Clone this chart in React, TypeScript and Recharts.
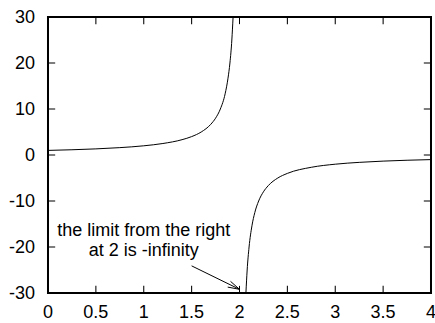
import { Line, LineChart, ReferenceArea, ReferenceDot, ReferenceLine, XAxis, YAxis } from "recharts";

// values, left branch (x < 2) and right branch (x > 2)
const leftX = [0, 0.25, 0.5, 0.75, 1, 1.2, 1.4, 1.5, 1.6, 1.7, 1.75, 1.8, 1.85, 1.88, 1.9, 1.92, 1.933];
const leftY = [1, 1.14, 1.33, 1.6, 2, 2.5, 3.33, 4, 5, 6.67, 8, 10, 13.3, 16.7, 20, 25, 30];
const rightX = [2.067, 2.08, 2.1, 2.13, 2.16, 2.2, 2.25, 2.3, 2.4, 2.5, 2.75, 3, 3.25, 3.5, 3.75, 4];
const rightY = [-30, -25, -20, -15.4, -12.5, -10, -8, -6.67, -5, -4, -2.67, -2, -1.6, -1.33, -1.14, -1];

const xTicks = [0, 0.5, 1, 1.5, 2, 2.5, 3, 3.5, 4];
const yTicks = [-30, -20, -10, 0, 10, 20, 30];

const noteLines = ["the limit from the right", "at 2 is -infinity"];
const noteAt = { x: 1, y: -17.6 };
const arrowFrom = { x: 1.5, y: -24.1 };
const arrowTo = { x: 2, y: -29.2 };

const leftData = leftX.map((x, i) => ({ x, y: leftY[i] }));
const rightData = rightX.map((x, i) => ({ x, y: rightY[i] }));

const FONT = "'Liberation Sans', Arial, sans-serif";
const X0 = xTicks[0];
const X1 = xTicks[xTicks.length - 1];
const Y0 = yTicks[0];
const Y1 = yTicks[yTicks.length - 1];
// inward tick length and half stroke widths, in axis units (1px ~ 0.0104 x, 0.217 y)
const xTickLen = 0.075;
const yTickLen = 1.55;
const hx = 0.0105;
const hy = 0.22;
const tx = 0.0055;
const ty = 0.11;

// border edges and tick marks as thin filled boxes [x1, x2, y1, y2]
const boxes: number[][] = [
  [X0 - hx, X1 + hx, Y0 - hy, Y0 + hy],
  [X0 - hx, X1 + hx, Y1 - hy, Y1 + hy],
  [X0 - hx, X0 + hx, Y0 - hy, Y1 + hy],
  [X1 - hx, X1 + hx, Y0 - hy, Y1 + hy],
  ...xTicks.map((t) => [t - tx, t + tx, Y0, Y0 + yTickLen]),
  ...xTicks.map((t) => [t - tx, t + tx, Y1 - yTickLen, Y1]),
  ...yTicks.map((t) => [X0, X0 + xTickLen, t - ty, t + ty]),
  ...yTicks.map((t) => [X1 - xTickLen, X1, t - ty, t + ty]),
];

function Arrow(props: any) {
  const { x1, y1, x2, y2 } = props;
  const ang = Math.atan2(y2 - y1, x2 - x1);
  const len = 12;
  const spread = 0.27;
  const ax = x2 - len * Math.cos(ang - spread);
  const ay = y2 - len * Math.sin(ang - spread);
  const bx = x2 - len * Math.cos(ang + spread);
  const by = y2 - len * Math.sin(ang + spread);
  return (
    <path
      d={`M${x1},${y1}L${x2},${y2}M${ax},${ay}L${x2},${y2}L${bx},${by}`}
      stroke="#000"
      strokeWidth={1}
      fill="none"
    />
  );
}

function Note(props: any) {
  const { cx, cy } = props;
  return (
    <text x={cx} y={cy} textAnchor="middle" fontSize={18} fontFamily={FONT} fill="#000">
      <tspan x={cx}>{noteLines[0]}</tspan>
      <tspan x={cx} dy={20}>
        {noteLines[1]}
      </tspan>
    </text>
  );
}

export default function App() {
  const tickStyle = { fontSize: 18, fill: "#000", fontFamily: FONT };
  return (
    <div style={{ position: "absolute", left: 0, top: 0, background: "#fff" }}>
      <LineChart width={435} height={323} margin={{ top: 17, right: 4, left: 0, bottom: 0 }}>
        <XAxis
          xAxisId="b"
          type="number"
          dataKey="x"
          domain={[X0, X1]}
          ticks={xTicks}
          height={30}
          tickSize={0}
          tickMargin={12}
          tick={tickStyle}
          axisLine={false}
          tickLine={false}
          interval={0}
        />
        <YAxis
          yAxisId="l"
          type="number"
          domain={[Y0, Y1]}
          ticks={yTicks}
          width={48}
          tickSize={0}
          tickMargin={13}
          tick={tickStyle}
          axisLine={false}
          tickLine={false}
          interval={0}
        />
        {boxes.map((b, i) => (
          <ReferenceArea
            key={`bx-${i}`}
            xAxisId="b"
            yAxisId="l"
            x1={b[0]}
            x2={b[1]}
            y1={b[2]}
            y2={b[3]}
            ifOverflow="visible"
            fill="#000"
            fillOpacity={1}
            stroke="none"
          />
        ))}
        <Line
          xAxisId="b"
          yAxisId="l"
          data={leftData}
          dataKey="y"
          type="monotone"
          stroke="#000"
          strokeWidth={1}
          dot={false}
          isAnimationActive={false}
        />
        <Line
          xAxisId="b"
          yAxisId="l"
          data={rightData}
          dataKey="y"
          type="monotone"
          stroke="#000"
          strokeWidth={1}
          dot={false}
          isAnimationActive={false}
        />
        <ReferenceLine
          xAxisId="b"
          yAxisId="l"
          segment={[arrowFrom, arrowTo]}
          shape={<Arrow />}
        />
        <ReferenceDot xAxisId="b" yAxisId="l" x={noteAt.x} y={noteAt.y} shape={<Note />} />
      </LineChart>
    </div>
  );
}
